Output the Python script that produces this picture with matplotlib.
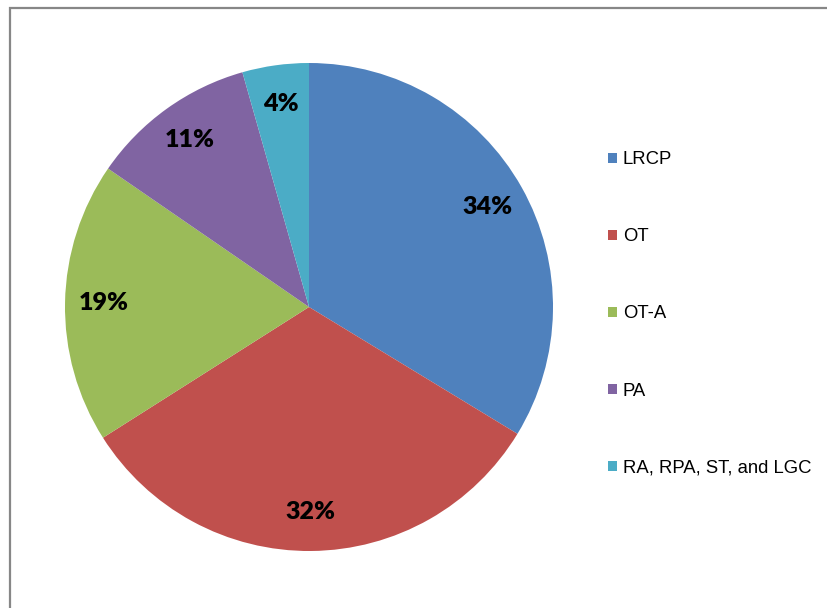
import matplotlib.pyplot as plt
from matplotlib.patches import Patch, Rectangle

# data
labels = ['LRCP', 'OT', 'OT-A', 'PA', 'RA, RPA, ST, and LGC']
shares = [33.7, 32.3, 18.6, 11.0, 4.4]
colors = ['#4F81BD', '#C0504D', '#9BBB59', '#8064A2', '#4BACC6']

W, H = 827, 608
fig = plt.figure(figsize=(W / 100, H / 100), dpi=100)

# chart border (right/bottom run off the picture)
fig.patches.append(Rectangle((10 / W, -0.05), 1.1, 1 - 8 / H + 0.05,
                             transform=fig.transFigure, fill=False,
                             edgecolor='#878787', linewidth=1.6))

# pie centre ~(309, 307) px, radius ~244 px
cx, cy, r = 309, 307, 244
ax = fig.add_axes([(cx - r) / W, (H - cy - r) / H, 2 * r / W, 2 * r / H])
wedges, texts, autotexts = ax.pie(shares, colors=colors, startangle=90,
                                  counterclock=False, autopct='%1.0f%%',
                                  pctdistance=0.84,
                                  wedgeprops=dict(linewidth=0),
                                  textprops=dict(fontsize=18, fontweight='heavy',
                                                 family='Lato', color='black'))
ax.set_xlim(-1, 1)
ax.set_ylim(-1, 1)
ax.set_aspect('equal')

handles = [Patch(facecolor=c, edgecolor='none') for c in colors]
fig.legend(handles, labels, loc='center left',
           bbox_to_anchor=(608 / W, 1 - 314 / H),
           frameon=False, borderpad=0, borderaxespad=0,
           prop=dict(family='Liberation Sans', size=13.3),
           handlelength=0.5, handleheight=0.5, handletextpad=0.3,
           labelspacing=3.25)

fig.savefig('out.png', dpi=100)
